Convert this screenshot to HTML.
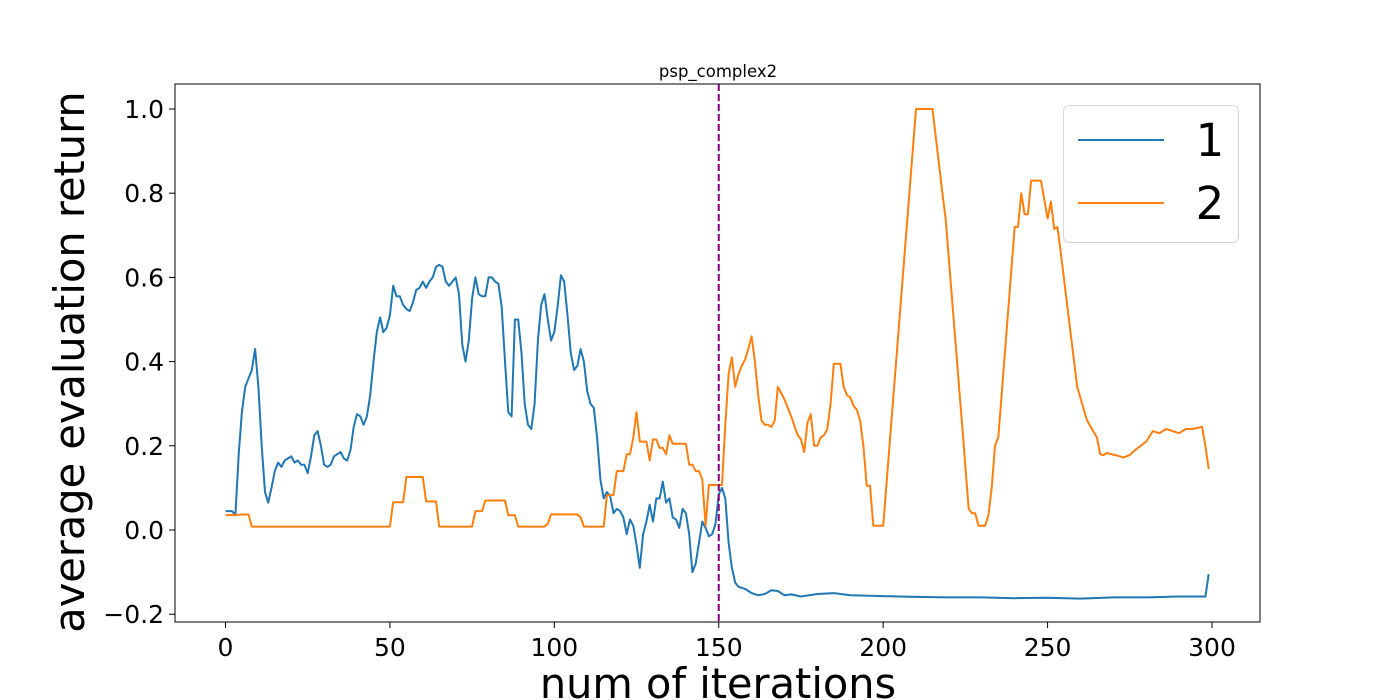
<!DOCTYPE html>
<html><head><meta charset="utf-8"><style>
body{margin:0;background:#fff;}
svg{display:block;font-family:"DejaVu Sans","Liberation Sans",sans-serif;}
</style></head><body>
<svg id="chart" width="1400" height="700" viewBox="0 0 1400 700" xmlns="http://www.w3.org/2000/svg">
<rect x="0" y="0" width="1400" height="700" fill="#fff"/>
<text x="718" y="77" font-size="16.5" text-anchor="middle">psp_complex2</text>
<g id="grid"></g>
<g id="series"></g>
<rect x="175" y="84" width="1085" height="538" fill="none" stroke="#000" stroke-width="1"/>
<g id="xticks"></g><g id="yticks"></g>
<text x="718" y="698" font-size="41.5" text-anchor="middle">num of iterations</text>
<text transform="translate(84,362) rotate(-90)" font-size="41.5" text-anchor="middle">average evaluation return</text>
<g>
<rect x="1063.5" y="105.5" width="175" height="137" rx="6" fill="#fff" fill-opacity="0.8" stroke="#d6d6d6"/>
<line x1="1078" y1="140" x2="1164" y2="140" stroke="#1f77b4" stroke-width="2"/>
<text x="1210" y="156" font-size="45" text-anchor="middle">1</text>
<line x1="1078" y1="203" x2="1164" y2="203" stroke="#ff7f0e" stroke-width="2"/>
<text x="1210" y="219" font-size="45" text-anchor="middle">2</text>
</g>
</svg>
<script>
const xTicks=[0,50,100,150,200,250,300];
const yTicks=[-0.2,0,0.2,0.4,0.6,0.8,1.0];
const yTickLabels=["\u22120.2","0.0","0.2","0.4","0.6","0.8","1.0"];
const vlineX=150;
const s1x=[0,2,3,4,5,6,8,9,10,11,12,13,14,15,16,17,18,19,20,21,22,23,24,25,26,27,28,29,30,31,32,33,34,35,36,37,38,39,40,41,42,43,44,45,46,47,48,49,50,51,52,53,54,55,56,57,58,59,60,61,62,63,64,65,66,67,68,69,70,71,72,73,74,75,76,77,78,79,80,81,82,83,84,85,86,87,88,89,90,91,92,93,94,95,96,97,98,99,100,101,102,103,104,105,106,107,108,109,110,111,112,113,114,115,116,117,118,119,120,121,122,123,124,125,126,127,128,129,130,131,132,133,134,135,136,137,138,139,140,141,142,143,144,145,146,147,148,149,150,151,152,153,154,155,156,158,160,162,164,166,168,170,172,175,180,185,190,200,210,220,230,240,250,260,270,280,290,298,299];
const s1y=[.045,.045,.035,.18,.28,.34,.38,.43,.34,.2,.09,.065,.1,.14,.16,.15,.165,.17,.175,.16,.165,.155,.155,.135,.175,.225,.235,.2,.155,.15,.155,.175,.18,.185,.17,.165,.19,.245,.275,.27,.25,.27,.32,.4,.47,.505,.47,.48,.51,.58,.555,.555,.535,.525,.52,.54,.57,.575,.59,.575,.59,.6,.625,.63,.625,.59,.58,.59,.6,.56,.44,.4,.45,.55,.6,.56,.555,.555,.6,.6,.59,.585,.53,.4,.28,.27,.5,.5,.42,.3,.25,.24,.3,.45,.535,.56,.5,.45,.47,.53,.605,.59,.51,.42,.38,.39,.43,.4,.33,.3,.29,.22,.12,.075,.09,.08,.04,.05,.045,.03,-.01,.025,.01,-.035,-.09,-.01,.02,.06,.02,.075,.075,.115,.065,.075,.03,.025,.005,.05,.04,-.01,-.1,-.08,-.03,.02,.005,-.015,-.01,.015,.085,.1,.075,-.03,-.09,-.125,-.135,-.14,-.15,-.155,-.152,-.143,-.145,-.155,-.153,-.158,-.152,-.15,-.155,-.157,-.159,-.16,-.16,-.162,-.161,-.163,-.16,-.16,-.158,-.158,-.105];
const s2x=[0,7,8,50,51,54,55,60,61,64,65,75,76,78,79,85,86,88,89,97,98,99,107,108,109,115,116,118,119,121,122,123,124,125,126,128,129,130,131,132,133,134,135,136,140,141,142,143,144,145,146,147,151,152,153,154,155,156,157,158,159,160,161,162,163,164,165,166,167,168,170,172,174,175,176,177,178,179,180,181,182,183,184,185,187,188,189,190,191,192,193,194,195,196,197,200,210,215,218,219,224,226,227,228,229,231,232,233,234,235,240,241,242,243,244,245,248,250,251,252,253,254,259,262,265,266,267,268,272,273,275,276,280,282,284,286,288,290,292,294,297,298,299];
const s2y=[.035,.037,.008,.008,.066,.066,.126,.126,.068,.068,.008,.008,.045,.045,.07,.07,.035,.035,.008,.008,.015,.037,.037,.03,.008,.008,.083,.083,.14,.14,.18,.18,.22,.28,.21,.21,.165,.215,.215,.195,.195,.18,.225,.205,.205,.155,.155,.14,.14,.12,.01,.107,.107,.25,.37,.41,.34,.37,.39,.405,.43,.46,.4,.32,.26,.25,.25,.245,.26,.34,.31,.27,.225,.215,.185,.255,.275,.2,.2,.22,.225,.24,.3,.395,.395,.34,.32,.315,.295,.285,.26,.2,.105,.105,.01,.01,1.0,1.0,.8,.74,.25,.05,.04,.04,.01,.01,.035,.1,.2,.22,.72,.72,.8,.75,.75,.83,.83,.74,.78,.715,.72,.66,.34,.26,.22,.18,.178,.183,.175,.172,.178,.186,.21,.235,.23,.24,.235,.23,.24,.24,.245,.2,.145];
const NS="http://www.w3.org/2000/svg";
const X=v=>225.5+v*(1212-225.5)/300;
const Y=v=>530-v*421;
function mk(tag,attrs,parent){const e=document.createElementNS(NS,tag);for(const k in attrs)e.setAttribute(k,attrs[k]);parent.appendChild(e);return e;}
const xt=document.getElementById('xticks'),yt=document.getElementById('yticks'),sg=document.getElementById('series');
xTicks.forEach(t=>{
 const l=mk('line',{x1:X(t),x2:X(t),y1:622,y2:628,stroke:'#000'},xt);
 
 
 const tx=mk('text',{x:X(t),y:656,'font-size':25,'text-anchor':'middle'},xt);tx.textContent=t;
 
 
});
yTicks.forEach((t,i)=>{
 const l=mk('line',{x1:169,x2:175,y1:Y(t),y2:Y(t),stroke:'#000'},yt);
 
 
 const tx=mk('text',{x:164,y:Y(t)+9,'font-size':25,'text-anchor':'end'},yt);tx.textContent=yTickLabels[i];
 
 
});
function line(xs,ys,color,name){
 const d=xs.map((x,i)=>(i?'L':'M')+X(x).toFixed(1)+','+Y(ys[i]).toFixed(1)).join('');
 const p=mk('path',{d:d,fill:'none',stroke:color,'stroke-width':2,'stroke-linejoin':'round'},sg);
 
 
}
line(s1x,s1y,'#1f77b4','series-1-line');
line(s2x,s2y,'#ff7f0e','series-2-line');
const vl=mk('line',{x1:X(vlineX),x2:X(vlineX),y1:84,y2:622,stroke:'#800080','stroke-width':2,'stroke-dasharray':'7,3'},sg);


</script>
</body></html>
